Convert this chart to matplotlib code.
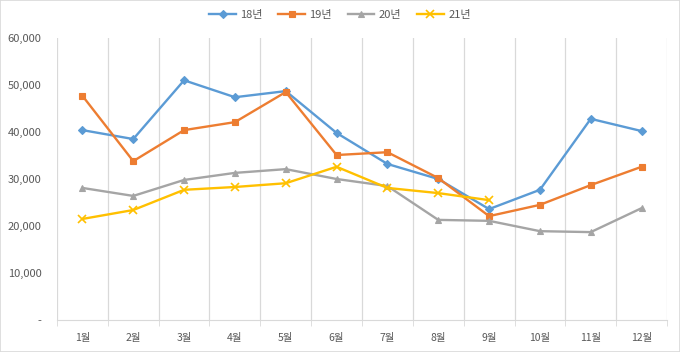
import matplotlib
matplotlib.use("Agg")
import matplotlib.pyplot as plt
from matplotlib.ticker import FixedLocator, FuncFormatter
import numpy as np

plt.rcParams['font.family'] = ['Noto Sans CJK KR', 'DejaVu Sans']

months = ["1월", "2월", "3월", "4월", "5월", "6월", "7월", "8월", "9월", "10월", "11월", "12월"]
s18 = [40400, 38500, 51000, 47400, 48700, 39800, 33200, 30000, 23600, 27700, 42800, 40200]
s19 = [47700, 33800, 40400, 42100, 48500, 35100, 35700, 30200, 22100, 24500, 28700, 32600]
s20 = [28100, 26400, 29800, 31300, 32100, 30000, 28500, 21300, 21100, 18900, 18700, 23800]
s21 = [21500, 23400, 27700, 28300, 29100, 32600, 28100, 27000, 25500]
names = ["18년", "19년", "20년", "21년"]
yticks = [0, 10000, 20000, 30000, 40000, 50000, 60000]

fig = plt.figure(figsize=(6.8, 3.52), dpi=100)
fig.patches.append(plt.Rectangle((0, 0), 1, 1, transform=fig.transFigure,
                                 fill=False, edgecolor='#D9D9D9', linewidth=1.2))
ax = fig.add_axes([57/680, 32/352, 610/680, 282/352])

x = np.arange(len(months))
styles = [
    (s18, '#5B9BD5', 'D', 4),
    (s19, '#ED7D31', 's', 5),
    (s20, '#A5A5A5', '^', 5),
    (s21, '#FFC000', 'x', 6),
]
for (vals, c, m, ms), name in zip(styles, names):
    ax.plot(x[:len(vals)], vals, color=c, marker=m, markersize=ms, linewidth=1.7,
            label=name, markeredgewidth=1.2 if m == 'x' else 0.8)

ax.set_xlim(-0.5, 11.5)
ax.set_ylim(0, 60000)
ax.set_yticks(yticks)
ax.yaxis.set_major_formatter(FuncFormatter(lambda v, p: '-' if v == 0 else f'{int(v):,}'))
ax.set_xticks(x)
ax.set_xticklabels(months)
ax.xaxis.set_minor_locator(FixedLocator(np.arange(-0.5, 12, 1)))
ax.grid(which='minor', axis='x', color='#D9D9D9', linewidth=0.9)
ax.tick_params(axis='x', which='major', length=0, pad=9, labelsize=7.5, labelcolor='#595959')
ax.tick_params(axis='x', which='minor', length=4, color='#D9D9D9')
ax.tick_params(axis='y', length=0, labelsize=8, labelcolor='#595959', pad=11)
for s in ['top', 'right', 'left']:
    ax.spines[s].set_visible(False)
ax.spines['bottom'].set_color('#D9D9D9')

leg = fig.legend(loc='upper center', bbox_to_anchor=(0.5, 1.0), ncol=4, frameon=False,
                 fontsize=8, handlelength=2.4, handletextpad=0.4, columnspacing=1.4)
for t in leg.get_texts():
    t.set_color('#595959')

fig.savefig('out.png', dpi=100)
